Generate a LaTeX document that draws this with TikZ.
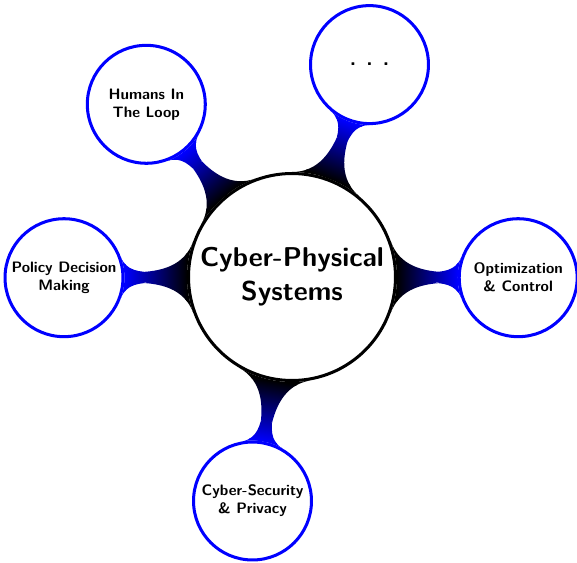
\documentclass[tikz,border=0pt]{standalone}
\usetikzlibrary{mindmap,backgrounds}
\begin{document}
\begin{tikzpicture}[x=0.529pt,y=-0.529pt,
  hub/.style={circle, draw=black, fill=white, line width=1.6pt,
    minimum size=109.5pt, inner sep=0pt, align=center,
    font=\Large\bfseries\sffamily},
  topic/.style={circle, draw=blue, fill=white, line width=1.6pt,
    minimum size=62.4pt, inner sep=0pt, align=center,
    font=\footnotesize\bfseries\sffamily},
  link/.style={circle connection bar switch color=from (black) to (blue)}]
\useasboundingbox (0,0) rectangle (577,563);

% central concept and its five topics
\node[hub] (cps) at (292,277) {Cyber-Physical\\Systems};
\node[topic] (more)   at (369.5,64.6) {\fontsize{11}{13}\selectfont . . .};
\node[topic] (humans) at (146.3,104.3) {Humans In\\The Loop};
\node[topic] (policy) at (64,277.7) {Policy Decision\\Making};
\node[topic] (optim)  at (518.2,277.7) {Optimization\\\& Control};
\node[topic] (secur)  at (252.5,501) {Cyber-Security\\\& Privacy};

% shaded connection bars behind the circles
\begin{scope}[on background layer]
  \path (cps) to[link] (more);
  \path (cps) to[link] (humans);
  \path (cps) to[link] (policy);
  \path (cps) to[link] (optim);
  \path (cps) to[link] (secur);
\end{scope}
\end{tikzpicture}
\end{document}
